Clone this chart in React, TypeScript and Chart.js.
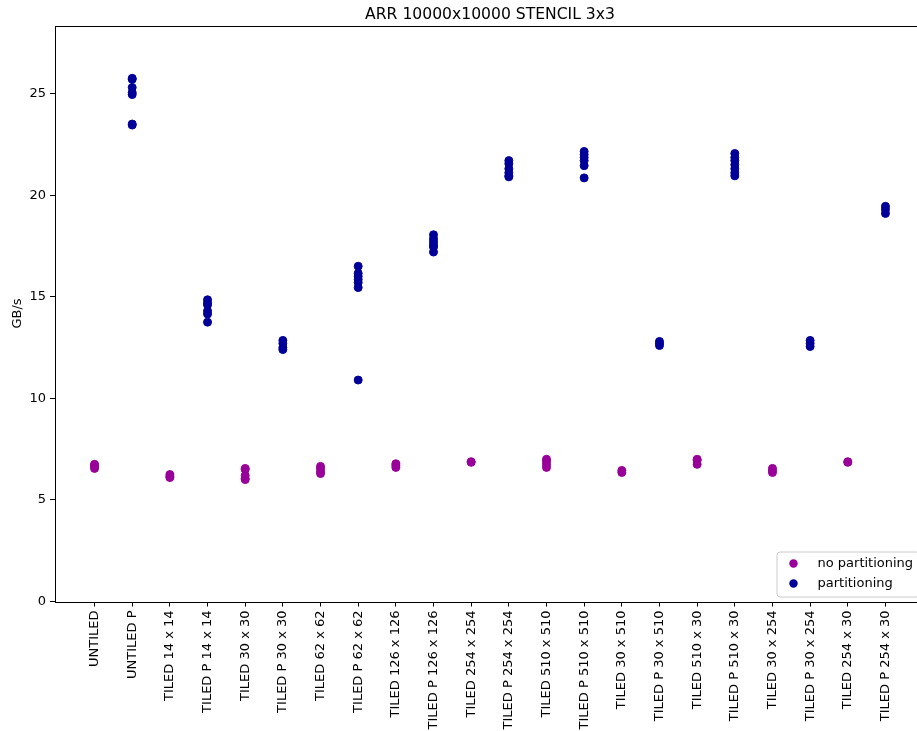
import React, { useEffect, useRef } from "react";
import { Chart, registerables } from "chart.js";

Chart.register(...registerables);

// Bandwidth of a 3x3 stencil over a 10000x10000 array, several runs per variant.
const chartTitle = "ARR 10000x10000 STENCIL 3x3";
const yAxisTitle = "GB/s";

const categories = [
  "UNTILED",
  "UNTILED P",
  "TILED 14 x 14",
  "TILED P 14 x 14",
  "TILED 30 x 30",
  "TILED P 30 x 30",
  "TILED 62 x 62",
  "TILED P 62 x 62",
  "TILED 126 x 126",
  "TILED P 126 x 126",
  "TILED 254 x 254",
  "TILED P 254 x 254",
  "TILED 510 x 510",
  "TILED P 510 x 510",
  "TILED 30 x 510",
  "TILED P 30 x 510",
  "TILED 510 x 30",
  "TILED P 510 x 30",
  "TILED 30 x 254",
  "TILED P 30 x 254",
  "TILED 254 x 30",
  "TILED P 254 x 30",
];

// Runs without partitioning (one list per category, empty where not measured).
const noPartitioning: number[][] = [
  [6.75, 6.7, 6.65, 6.55],
  [],
  [6.25, 6.15, 6.1],
  [],
  [6.55, 6.5, 6.2, 6.05, 6.0],
  [],
  [6.65, 6.55, 6.4, 6.3],
  [],
  [6.78, 6.7, 6.6],
  [],
  [6.88, 6.85],
  [],
  [7.0, 6.9, 6.75, 6.6],
  [],
  [6.45, 6.35],
  [],
  [7.0, 6.95, 6.75],
  [],
  [6.55, 6.45, 6.35],
  [],
  [6.88, 6.85],
  [],
];

// Runs with partitioning.
const partitioning: number[][] = [
  [],
  [25.75, 25.7, 25.3, 25.05, 24.95, 23.5, 23.45],
  [],
  [14.85, 14.7, 14.6, 14.3, 14.15, 13.75],
  [],
  [12.85, 12.7, 12.5, 12.4],
  [],
  [16.5, 16.15, 16.0, 15.85, 15.7, 15.45, 10.9],
  [],
  [18.05, 17.85, 17.7, 17.55, 17.45, 17.2],
  [],
  [21.7, 21.55, 21.3, 21.1, 20.95, 20.9],
  [],
  [22.15, 22.0, 21.85, 21.7, 21.45, 20.85],
  [],
  [12.8, 12.7, 12.6],
  [],
  [22.05, 21.85, 21.7, 21.5, 21.3, 21.1, 20.95],
  [],
  [12.85, 12.7, 12.55],
  [],
  [19.45, 19.3, 19.1],
];

const yTicks = [0, 5, 10, 15, 20, 25];
const yMax = 28.35;

const seriesNames = ["no partitioning", "partitioning"];
const seriesColors = ["#990099", "#000099"];

const FONT = "'DejaVu Sans', 'Liberation Sans', sans-serif";

function toPoints(series: number[][]) {
  return series.flatMap((vals, i) => vals.map((v) => ({ x: i, y: v })));
}

// Axes frame, title and an in-plot legend drawn on top of the chart.
const decorations = {
  id: "decorations",
  afterDraw(chart: any) {
    const { ctx, chartArea: a } = chart;
    ctx.save();

    // frame
    ctx.strokeStyle = "#000";
    ctx.lineWidth = 1;
    const l = Math.round(a.left) + 0.5;
    const t = Math.round(a.top) + 0.5;
    const r = Math.round(a.right) + 0.5;
    const b = Math.round(a.bottom) + 0.5;
    ctx.strokeRect(l, t, r - l, b - t);

    // title
    ctx.fillStyle = "#000";
    ctx.font = `15.6px ${FONT}`;
    ctx.textAlign = "center";
    ctx.textBaseline = "alphabetic";
    ctx.fillText(chartTitle, (a.left + a.right) / 2, a.top - 7);

    // legend box, lower right
    const boxW = 142;
    const boxH = 45;
    const bx = a.right - 6.5 - boxW;
    const by = a.bottom - 5 - boxH;
    ctx.beginPath();
    if ((ctx as any).roundRect) {
      (ctx as any).roundRect(bx + 0.5, by + 0.5, boxW, boxH, 3);
    } else {
      ctx.rect(bx + 0.5, by + 0.5, boxW, boxH);
    }
    ctx.fillStyle = "rgba(255,255,255,0.8)";
    ctx.fill();
    ctx.strokeStyle = "#cccccc";
    ctx.stroke();

    ctx.font = `13px ${FONT}`;
    ctx.textAlign = "left";
    ctx.textBaseline = "middle";
    seriesNames.forEach((name, i) => {
      const cy = by + 12 + i * 20;
      ctx.beginPath();
      ctx.arc(bx + 17, cy, 4.2, 0, Math.PI * 2);
      ctx.fillStyle = seriesColors[i];
      ctx.fill();
      ctx.fillStyle = "#000";
      ctx.fillText(name, bx + 41, cy);
    });

    ctx.restore();
  },
};

export default function App() {
  const canvasRef = useRef<HTMLCanvasElement | null>(null);

  useEffect(() => {
    if (!canvasRef.current) return;
    const chart = new Chart(canvasRef.current, {
      type: "scatter",
      data: {
        datasets: [
          {
            label: seriesNames[0],
            data: toPoints(noPartitioning),
            backgroundColor: seriesColors[0],
            borderColor: seriesColors[0],
            borderWidth: 1,
            pointRadius: 4,
          },
          {
            label: seriesNames[1],
            data: toPoints(partitioning),
            backgroundColor: seriesColors[1],
            borderColor: seriesColors[1],
            borderWidth: 1,
            pointRadius: 4,
          },
        ],
      },
      options: {
        responsive: false,
        animation: false,
        devicePixelRatio: 1,
        layout: { padding: { top: 25.5, right: 15, left: 0.5, bottom: 0 } },
        plugins: {
          legend: { display: false },
          title: { display: false },
          tooltip: { enabled: false },
        },
        scales: {
          x: {
            type: "linear",
            min: -1.05,
            max: categories.length - 1 + 1.05,
            afterBuildTicks: (axis: any) => {
              axis.ticks = categories.map((_, i) => ({ value: i }));
            },
            afterFit: (axis: any) => {
              axis.height = 129.5;
            },
            grid: {
              display: true,
              drawOnChartArea: false,
              drawTicks: true,
              tickLength: 5,
              color: "#000",
              lineWidth: 1,
            },
            border: { display: false },
            ticks: {
              autoSkip: false,
              minRotation: 90,
              maxRotation: 90,
              padding: 4,
              color: "#000",
              font: { family: FONT, size: 13 },
              callback: (v: any) => categories[v as number] ?? "",
            },
          },
          y: {
            type: "linear",
            min: 0,
            max: yMax,
            afterBuildTicks: (axis: any) => {
              axis.ticks = yTicks.map((v) => ({ value: v }));
            },
            afterFit: (axis: any) => {
              axis.width = 54.5;
            },
            grid: {
              display: true,
              drawOnChartArea: false,
              drawTicks: true,
              tickLength: 5,
              color: "#000",
              lineWidth: 1,
            },
            border: { display: false },
            ticks: {
              padding: 4,
              color: "#000",
              font: { family: FONT, size: 13 },
            },
            title: {
              display: true,
              text: yAxisTitle,
              color: "#000",
              font: { family: FONT, size: 13 },
              padding: { top: 9, bottom: 0 },
            },
          },
        },
      },
      plugins: [decorations],
    });
    return () => chart.destroy();
  }, []);

  return (
    <div
      style={{
        position: "fixed",
        left: 0,
        top: 0,
        width: 917,
        height: 731,
        overflow: "hidden",
        background: "#fff",
      }}
    >
      <canvas
        ref={canvasRef}
        width={940}
        height={731}
        style={{ display: "block", width: 940, height: 731 }}
      />
    </div>
  );
}
